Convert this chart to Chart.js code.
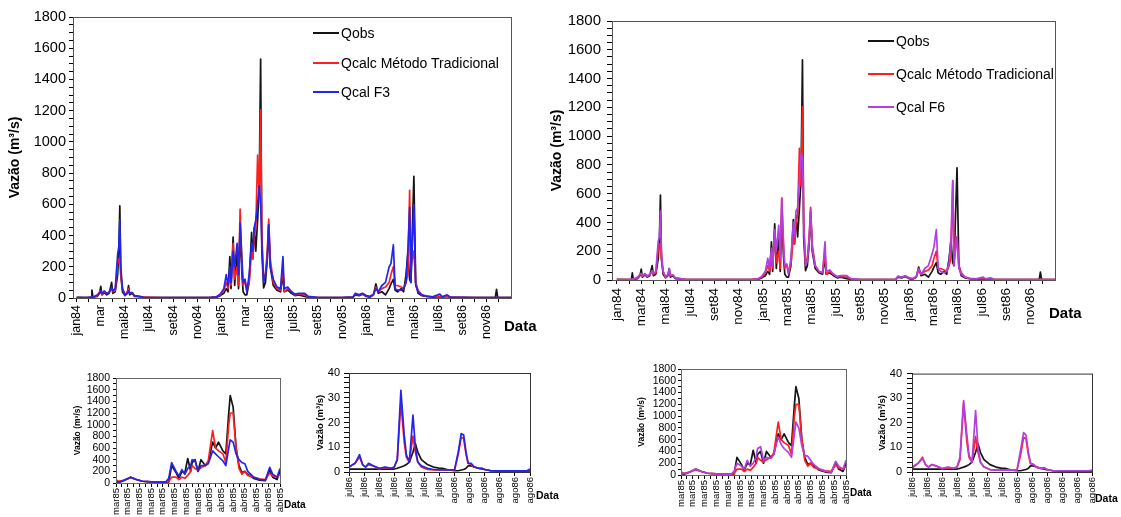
<!DOCTYPE html>
<html lang="pt-BR">
<head>
<meta charset="utf-8">
<title>Vazões observadas e calculadas</title>
<script src="https://cdn.jsdelivr.net/npm/chart.js@4.4.1/dist/chart.umd.min.js"></script>
<style>
  html, body { margin: 0; padding: 0; background: #fff; }
  body { width: 1121px; height: 517px; position: relative; overflow: hidden;
         font-family: 'Liberation Sans', Arial, sans-serif; color: #000; }
  canvas { position: absolute; }
  .rotulo { position: absolute; font-weight: bold; white-space: nowrap; line-height: 1; transform: translateY(-50%); }
  .item { position: absolute; white-space: nowrap; font-size: 14px; line-height: 16px; transform: translateY(-50%); }
  .item span { display: inline-block; width: 26px; height: 2px; vertical-align: middle; margin-right: 2px; position: relative; top: -1px; }
</style>
</head>
<body>
<canvas id="gEsq" width="540" height="345" style="left:0px;top:0px"></canvas>
<canvas id="gDir" width="576" height="345" style="left:545px;top:0px"></canvas>
<canvas id="g1" width="240" height="152" style="left:60px;top:365px"></canvas>
<canvas id="g2" width="265" height="155" style="left:295px;top:362px"></canvas>
<canvas id="g3" width="245" height="159" style="left:625px;top:358px"></canvas>
<canvas id="g4" width="261" height="155" style="left:860px;top:362px"></canvas>

<script>
// series
const nomes = ['Qobs', 'Qcalc Método Tradicional', 'Qcal F3', 'Qcal F6'];
const cores = ['#141414', '#ff1f1f', '#2424f0', '#b23fe0'];

// rótulos do eixo x (a cada 2 meses)
const rotulosEsq = ['jan84', 'mar', 'mai84', 'jul84', 'set84', 'nov84', 'jan85', 'mar', 'mai85',
  'jul85', 'set85', 'nov85', 'jan86', 'mar', 'mai86', 'jul86', 'set86', 'nov86'];
const rotulosDir = ['jan84', 'mar84', 'mai84', 'jul84', 'set84', 'nov84', 'jan85', 'mar85', 'mai85',
  'jul85', 'set85', 'nov85', 'jan86', 'mar86', 'mai86', 'jul86', 'set86', 'nov86'];
const rotulosMarAbr = ['mar85', 'mar85', 'mar85', 'mar85', 'mar85', 'mar85', 'mar85', 'mar85',
  'abr85', 'abr85', 'abr85', 'abr85', 'abr85', 'abr85', 'abr85'];
const rotulosJulAgo = ['jul86', 'jul86', 'jul86', 'jul86', 'jul86', 'jul86', 'jul86',
  'ago86', 'ago86', 'ago86', 'ago86', 'ago86', 'ago86'];

// série longa: meses desde jan/1984
const tMeses = [0, 0.8, 1.2, 1.27, 1.35, 1.7, 1.9, 2.0, 2.1, 2.3,
  2.5, 2.7, 2.9, 3.0, 3.2, 3.4, 3.5, 3.58, 3.66, 3.8,
  4.0, 4.2, 4.3, 4.4, 4.6, 4.8, 5.2, 5.6, 7, 9,
  11, 11.6, 11.9, 12.2, 12.4, 12.55, 12.7, 12.8, 12.97, 13.1,
  13.3, 13.42, 13.55, 13.7, 13.8, 13.96, 14.1, 14.3, 14.5, 14.6,
  14.72, 14.85, 15.0, 15.13, 15.25, 15.35, 15.5, 15.65, 15.8, 15.92,
  16.05, 16.3, 16.6, 16.9, 17.1, 17.2, 17.5, 17.8, 18.1, 18.4,
  18.9, 19.2, 20, 22, 22.9, 23.1, 23.4, 23.7, 24.0, 24.3,
  24.6, 24.8, 25.0, 25.3, 25.6, 25.9, 26.05, 26.25, 26.4, 26.6,
  26.9, 27.1, 27.3, 27.45, 27.6, 27.7, 27.95, 28.1, 28.3, 28.6,
  29.0, 29.5, 30.1, 30.3, 30.7, 31.0, 33, 34.7, 34.8, 34.9,
  36];
const qObs = [4, 3, 4, 50, 5, 10, 30, 75, 20, 35,
  20, 30, 100, 30, 40, 150, 300, 590, 150, 40,
  15, 30, 80, 20, 30, 10, 8, 3, 2, 2,
  2, 5, 15, 30, 60, 40, 265, 60, 390, 80,
  300, 60, 450, 150, 40, 20, 20, 100, 420, 250,
  450, 300, 500, 700, 1530, 300, 65, 100, 250, 470,
  200, 80, 50, 40, 150, 40, 50, 30, 15, 20,
  10, 5, 2, 2, 5, 20, 15, 25, 10, 5,
  20, 90, 30, 40, 20, 60, 90, 120, 50, 40,
  60, 40, 150, 280, 120, 100, 780, 100, 30, 15,
  10, 5, 8, 5, 10, 3, 2, 3, 55, 3,
  2];
const qTrad = [3, 3, 4, 8, 5, 15, 40, 45, 25, 40,
  30, 35, 60, 40, 50, 220, 250, 250, 150, 60,
  20, 40, 60, 30, 35, 15, 10, 5, 3, 3,
  3, 8, 20, 50, 100, 60, 150, 80, 350, 120,
  200, 80, 570, 200, 80, 110, 50, 100, 300, 250,
  400, 450, 915, 650, 1205, 400, 120, 150, 300, 505,
  250, 100, 60, 50, 200, 40, 60, 40, 20, 25,
  20, 8, 3, 3, 5, 25, 20, 25, 15, 8,
  20, 70, 40, 60, 70, 100, 150, 200, 80, 80,
  70, 60, 100, 150, 690, 200, 300, 100, 50, 20,
  10, 8, 10, 8, 10, 5, 3, 3, 5, 3,
  3];
const qF3 = [3, 3, 4, 8, 5, 20, 30, 45, 30, 45,
  25, 40, 70, 45, 60, 280, 330, 500, 200, 60,
  20, 30, 45, 30, 35, 15, 10, 4, 3, 3,
  3, 8, 25, 60, 150, 80, 200, 100, 300, 200,
  350, 150, 480, 250, 100, 120, 40, 150, 350, 300,
  450, 500, 600, 720, 600, 350, 100, 150, 250, 470,
  200, 120, 70, 60, 265, 60, 70, 40, 25, 30,
  30, 10, 3, 3, 5, 30, 20, 30, 15, 10,
  25, 60, 40, 80, 100, 200, 220, 340, 60, 50,
  50, 60, 100, 300, 580, 100, 600, 80, 40, 20,
  12, 8, 25, 8, 20, 5, 3, 3, 5, 3,
  3];
const qF6 = [3, 3, 4, 8, 5, 20, 35, 45, 30, 45,
  25, 40, 65, 45, 60, 270, 300, 480, 200, 60,
  20, 35, 80, 30, 35, 15, 10, 4, 3, 3,
  3, 8, 25, 60, 150, 80, 220, 100, 350, 200,
  380, 150, 570, 250, 100, 110, 40, 150, 400, 300,
  480, 500, 700, 880, 850, 400, 100, 130, 280, 490,
  220, 100, 60, 50, 265, 60, 70, 40, 25, 30,
  30, 10, 3, 3, 5, 25, 20, 30, 15, 10,
  25, 80, 40, 80, 100, 180, 230, 350, 80, 60,
  50, 60, 120, 280, 690, 100, 300, 80, 40, 20,
  12, 8, 20, 8, 15, 5, 3, 3, 5, 3,
  3];

// detalhe mar-abr/1985: dias desde 1/mar
const diasMarAbr = [0, 1, 3, 5, 7, 9, 12, 15, 17, 18,
  19, 20.5, 21.5, 22.5, 23.5, 24.5, 25.5, 26, 27, 28,
  29, 30.5, 31.5, 33, 34, 35, 36.5, 37.5, 38.5, 39,
  40, 41, 42, 43, 44, 45, 47, 49, 51, 52.5,
  53.5, 55, 56];
const marAbrObs = [30, 10, 50, 100, 60, 30, 20, 15, 10, 15,
  300, 180, 80, 200, 170, 420, 200, 350, 400, 200,
  400, 300, 350, 700, 600, 700, 550, 500, 1200, 1500,
  1300, 600, 300, 180, 200, 150, 80, 50, 40, 220,
  100, 60, 200];
const marAbrTrad = [50, 30, 50, 90, 55, 30, 20, 15, 15, 20,
  100, 100, 60, 100, 80, 130, 200, 300, 250, 220,
  260, 300, 380, 900, 600, 550, 500, 350, 1000, 1200,
  1200, 600, 250, 150, 200, 130, 100, 70, 60, 170,
  120, 100, 150];
const marAbrF3 = [30, 15, 50, 100, 60, 30, 20, 15, 15, 80,
  350, 200, 120, 230, 150, 250, 300, 400, 380, 200,
  300, 300, 330, 550, 500, 450, 380, 300, 600, 740,
  700, 500, 400, 350, 330, 200, 100, 60, 50, 270,
  150, 100, 250];
const marAbrF6 = [40, 20, 50, 100, 60, 30, 20, 15, 15, 60,
  200, 150, 100, 250, 150, 200, 300, 450, 480, 250,
  300, 280, 350, 650, 520, 450, 380, 300, 700, 900,
  800, 500, 330, 320, 250, 180, 100, 60, 50, 230,
  150, 100, 250];

// detalhe jul-ago/1986: dias desde 1/jul
const diasJulAgo = [0, 2, 3.5, 4.5, 5.5, 6.5, 8, 10, 12, 14,
  15, 16, 17.2, 18.3, 19, 20, 21.2, 22, 22.8, 24,
  26, 28, 30, 31, 33, 35, 36.2, 37.2, 38, 38.8,
  39.5, 40.5, 41.5, 43, 44, 45, 47, 50, 55, 59,
  60];
const julAgoObs = [1.2, 1.2, 1.2, 1.2, 1.2, 1.2, 1.2, 1.2, 1.2, 1.2,
  1.2, 1.5, 2, 2.5, 3, 4, 8, 11.5, 8, 5,
  3, 2, 1.5, 1.5, 0.8, 0.5, 0.5, 0.8, 1, 1.5,
  2.5, 2.5, 2, 1.5, 1.2, 1, 0.5, 0.3, 0.3, 0.3,
  0.3];
const julAgoTrad = [2, 3.5, 6, 3, 2, 3, 2.5, 1.2, 1.8, 1.5,
  2, 5, 28, 12, 6, 4, 14.5, 8, 4, 2,
  1, 0.8, 0.8, 0.8, 0.8, 0.8, 7, 14, 13.5, 7,
  3.5, 3, 2, 1.5, 1.5, 1, 0.5, 0.5, 0.5, 0.5,
  0.5];
const julAgoF3 = [2, 3.5, 7, 3, 2, 3.5, 2.5, 1.5, 2, 1.5,
  2, 5, 33, 15, 7, 4, 23, 10, 4, 2.5,
  1.5, 1, 0.8, 0.8, 0.8, 1, 8, 15.5, 15, 8,
  3.5, 3.5, 2, 1.5, 1.5, 1, 0.5, 0.5, 0.5, 0.5,
  1.2];
const julAgoF6 = [1.5, 3.5, 5.5, 3, 2, 3, 2.5, 1.5, 2, 1.5,
  2, 6, 29, 15, 7, 4, 25, 10, 4, 2,
  1, 0.8, 0.8, 0.8, 0.8, 0.8, 9, 16, 15, 8,
  3.5, 3, 2, 1.5, 1.8, 1, 0.5, 0.5, 0.5, 0.5,
  0.8];

Chart.defaults.font.family = "'Liberation Sans', Arial, sans-serif";
Chart.defaults.color = '#000';

function passo(ini, fim, p) {
  const v = [];
  for (let x = ini; x <= fim + 1e-9; x += p) v.push(Math.round(x * 100) / 100);
  return v;
}

// contorno da área do gráfico
const moldura = {
  id: 'moldura',
  afterDatasetsDraw(chart, args, opts) {
    const { ctx, chartArea: a } = chart;
    ctx.save();
    ctx.strokeStyle = opts.cor || '#555';
    ctx.lineWidth = 1;
    ctx.strokeRect(a.left + 0.5, a.top + 0.5, a.right - a.left, a.bottom - a.top);
    ctx.restore();
  }
};

function grafico(id, o) {
  return new Chart(document.getElementById(id), {
    type: 'line',
    data: {
      datasets: o.series.map(s => ({
        label: s.nome,
        data: o.x.map((t, i) => ({ x: t, y: s.valores[i] })),
        borderColor: s.cor,
        borderWidth: o.espessura,
        borderJoinStyle: 'round',
        pointRadius: 0,
        tension: 0,
        order: s.ordem
      }))
    },
    options: {
      responsive: false,
      animation: false,
      events: [],
      layout: { padding: { left: 0, top: o.topo, right: o.direita, bottom: 0 } },
      plugins: { legend: { display: false }, tooltip: { enabled: false }, moldura: { cor: o.corMoldura } },
      scales: {
        x: {
          type: 'linear', min: o.xMin, max: o.xMax,
          afterBuildTicks: s => { s.ticks = o.marcasX.map(v => ({ value: v })); },
          afterFit: s => { s.height = o.alturaX; },
          ticks: {
            autoSkip: false, minRotation: 90, maxRotation: 90, padding: o.padX,
            font: { size: o.fonteX },
            callback: o.rotuloX
          },
          grid: { drawOnChartArea: false, tickLength: 4, color: '#000' },
          border: { color: '#000', width: 1 }
        },
        y: {
          min: 0, max: o.yMax,
          afterBuildTicks: s => { s.ticks = o.marcasY.map(v => ({ value: v })); },
          afterFit: s => { s.width = o.larguraY; },
          ticks: {
            autoSkip: false, padding: o.padY,
            font: { size: o.fonteY },
            callback: v => (v % o.passoRotuloY === 0 ? v : '')
          },
          grid: { drawOnChartArea: false, tickLength: o.ticY, color: '#000' },
          border: { color: '#000', width: 1 },
          title: {
            display: true, text: 'Vazão (m³/s)',
            font: { size: o.fonteTitulo, weight: 'bold' },
            padding: { top: o.padTitulo, bottom: 0 }
          }
        }
      }
    },
    plugins: [moldura]
  });
}

function series(obs, trad, calc, iCalc) {
  return [
    { nome: nomes[0], valores: obs, cor: cores[0], ordem: 2 },
    { nome: nomes[1], valores: trad, cor: cores[1], ordem: 1 },
    { nome: nomes[iCalc], valores: calc, cor: cores[iCalc], ordem: 0 }
  ];
}

const marcasMeses = passo(0, 35, 1);

grafico('gEsq', {
  series: series(qObs, qTrad, qF3, 2), x: tMeses, espessura: 1.7,
  xMin: -0.3, xMax: 36, marcasX: marcasMeses,
  rotuloX: v => (v % 2 === 0 ? rotulosEsq[v / 2] : ''),
  alturaX: 47, padX: 3, fonteX: 12.5,
  yMax: 1800, marcasY: passo(0, 1800, 50), passoRotuloY: 200,
  larguraY: 73, padY: 3, ticY: 4, fonteY: 14.5, fonteTitulo: 14, padTitulo: 7,
  topo: 17, direita: 29, corMoldura: '#555'
});

grafico('gDir', {
  series: series(qObs, qTrad, qF6, 3), x: tMeses, espessura: 1.7,
  xMin: -0.4, xMax: 36, marcasX: marcasMeses,
  rotuloX: v => (v % 2 === 0 ? rotulosDir[v / 2] : ''),
  alturaX: 65, padX: 4, fonteX: 13.5,
  yMax: 1800, marcasY: passo(0, 1800, 50), passoRotuloY: 200,
  larguraY: 67, padY: 6, ticY: 5, fonteY: 15, fonteTitulo: 14, padTitulo: 4,
  topo: 21, direita: 66, corMoldura: '#555'
});

grafico('g1', {
  series: series(marAbrObs, marAbrTrad, marAbrF3, 2), x: diasMarAbr, espessura: 1.7,
  xMin: 0, xMax: 56, marcasX: passo(0, 56, 2),
  rotuloX: v => (v % 4 === 0 ? rotulosMarAbr[v / 4] : ''),
  alturaX: 34, padX: 1, fonteX: 9.5,
  yMax: 1800, marcasY: passo(0, 1800, 100), passoRotuloY: 200,
  larguraY: 56, padY: 3, ticY: 3, fonteY: 10.5, fonteTitulo: 8.5, padTitulo: 13,
  topo: 13, direita: 20, corMoldura: '#666'
});

grafico('g2', {
  series: series(julAgoObs, julAgoTrad, julAgoF3, 2), x: diasJulAgo, espessura: 1.7,
  xMin: 0, xMax: 60, marcasX: passo(0, 60, 5),
  rotuloX: v => rotulosJulAgo[v / 5],
  alturaX: 45, padX: 1, fonteX: 9.5,
  yMax: 40, marcasY: passo(0, 40, 2), passoRotuloY: 10,
  larguraY: 54, padY: 4, ticY: 5, fonteY: 11, fonteTitulo: 9.5, padTitulo: 20,
  topo: 11, direita: 30, corMoldura: '#333'
});

grafico('g3', {
  series: series(marAbrObs, marAbrTrad, marAbrF6, 3), x: diasMarAbr, espessura: 1.7,
  xMin: 0, xMax: 56, marcasX: passo(0, 56, 2),
  rotuloX: v => (v % 4 === 0 ? rotulosMarAbr[v / 4] : ''),
  alturaX: 42, padX: 1, fonteX: 9.5,
  yMax: 1800, marcasY: passo(0, 1800, 100), passoRotuloY: 200,
  larguraY: 56, padY: 2, ticY: 3, fonteY: 10.5, fonteTitulo: 8.5, padTitulo: 12,
  topo: 11, direita: 24, corMoldura: '#666'
});

grafico('g4', {
  series: series(julAgoObs, julAgoTrad, julAgoF6, 3), x: diasJulAgo, espessura: 1.7,
  xMin: 0, xMax: 60, marcasX: passo(0, 60, 5),
  rotuloX: v => rotulosJulAgo[v / 5],
  alturaX: 45, padX: 1, fonteX: 9.5,
  yMax: 40, marcasY: passo(0, 40, 2), passoRotuloY: 10,
  larguraY: 52, padY: 5, ticY: 5, fonteY: 11, fonteTitulo: 9.5, padTitulo: 17,
  topo: 11, direita: 29, corMoldura: '#333'
});

// legendas e rótulo "Data"
function legenda(x, ys, idx) {
  idx.forEach((k, i) => {
    const d = document.createElement('div');
    d.className = 'item';
    d.style.left = x + 'px';
    d.style.top = ys[i] + 'px';
    d.innerHTML = '<span style="background:' + cores[k] + '"></span>' + nomes[k];
    document.body.appendChild(d);
  });
}
legenda(313, [33, 63, 92], [0, 1, 2]);
legenda(868, [41, 74, 107], [0, 1, 3]);

function rotuloData(x, y, tam) {
  const d = document.createElement('div');
  d.className = 'rotulo';
  d.style.left = x + 'px';
  d.style.top = y + 'px';
  d.style.fontSize = tam + 'px';
  d.textContent = 'Data';
  document.body.appendChild(d);
}
rotuloData(504, 325, 15);
rotuloData(1049, 312, 15);
rotuloData(284, 505, 10);
rotuloData(536, 495, 10.5);
rotuloData(850, 493, 10);
rotuloData(1095, 498, 10.5);
</script>
</body>
</html>
